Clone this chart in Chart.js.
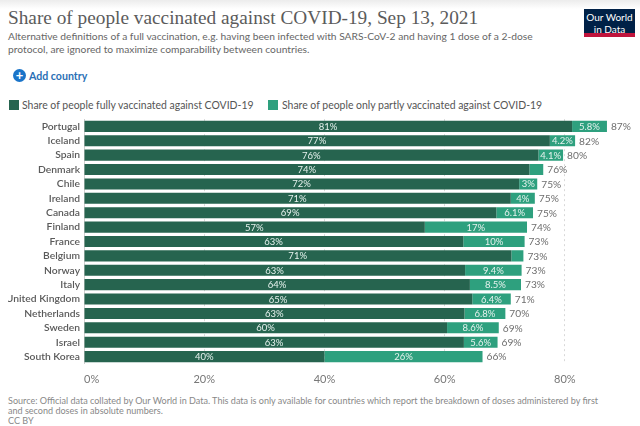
<!DOCTYPE html>
<html><head><meta charset="utf-8">
<script src="https://cdn.jsdelivr.net/npm/chart.js@4/dist/chart.umd.min.js"></script>
<style>
html,body{margin:0;padding:0;width:640px;height:426px;overflow:hidden;background:#fff;font-family:Lato,sans-serif}
#topshade{position:absolute;left:0;top:0;width:640px;height:9px;background:linear-gradient(#ececec,#fff)}
.t{position:absolute;white-space:nowrap}
#title{left:8px;top:5px;font:19.3px/26px "Liberation Serif",serif;color:#5b5b5b}
.sub{left:8px;font-size:10.25px;line-height:13px;color:#666}
#add{left:29px;top:69px;font-size:10.6px;line-height:14px;font-weight:700;color:#2a6fb5}
#plus{position:absolute;left:13px;top:69px;width:13px;height:13px;border-radius:50%;background:#1a74c9;color:#fff;font:700 13px/12px Lato;text-align:center}
#logo{position:absolute;left:584px;top:9px;width:51px;background:#002147;border-bottom:4px solid #c0143c;color:#fff;font-size:10px;line-height:11.5px;text-align:center;padding-top:3px;height:21px}
.foot{left:8px;font-size:9.05px;line-height:10px;color:#888}
.sw{position:absolute;top:100px;width:10px;height:10px}
.leg{top:98px;font-size:10.45px;line-height:14px;color:#555}
#wrap{position:absolute;left:0;top:109px;width:640px;height:286px}
</style></head><body>
<div id="topshade"></div>
<div class="t" id="title">Share of people vaccinated against COVID-19, Sep 13, 2021</div>
<div class="t sub" style="top:30px">Alternative definitions of a full vaccination, e.g. having been infected with SARS-CoV-2 and having 1 dose of a 2-dose</div>
<div class="t sub" style="top:43px">protocol, are ignored to maximize comparability between countries.</div>
<div id="plus">+</div><div class="t" id="add">Add country</div>
<div id="logo">Our World<br>in Data</div>
<div class="sw" style="left:9px;background:#26644f"></div>
<div class="t leg" style="left:22px">Share of people fully vaccinated against COVID-19</div>
<div class="sw" style="left:268px;background:#2ea07e"></div>
<div class="t leg" style="left:282px">Share of people only partly vaccinated against COVID-19</div>
<div id="wrap"><canvas id="c" width="640" height="286"></canvas></div>
<div class="t foot" style="top:396px">Source: Official data collated by Our World in Data. This data is only available for countries which report the breakdown of doses administered by first</div>
<div class="t foot" style="top:406px">and second doses in absolute numbers.</div>
<div class="t foot" style="top:416px">CC BY</div>
<script>
const countries=["Portugal","Iceland","Spain","Denmark","Chile","Ireland","Canada","Finland","France","Belgium","Norway","Italy","United Kingdom","Netherlands","Sweden","Israel","South Korea"];
const fullyVaccinated=[81.2,77.5,75.6,74.1,72.4,71,68.6,56.7,63.1,71.1,63.4,64.2,64.6,63.3,60.4,63.2,40];
const partlyVaccinated=[5.8,4.2,4.1,2.3,3,4,6.1,17,10.2,2,9.4,8.5,6.4,6.8,8.6,5.6,26.3];
const fullyLabels=["81%","77%","76%","74%","72%","71%","69%","57%","63%","71%","63%","64%","65%","63%","60%","63%","40%"];
const partlyLabels=["5.8%","4.2%","4.1%","","3%","4%","6.1%","17%","10%","","9.4%","8.5%","6.4%","6.8%","8.6%","5.6%","26%"];
const totalLabels=["87%","82%","80%","76%","75%","75%","75%","74%","73%","73%","73%","73%","71%","70%","69%","69%","66%"];
const xTicks=[0,20,40,60,80];
const xMax=91;

const barLabels={id:'barLabels',afterDatasetsDraw(chart){
  const {ctx,scales:{x,y}}=chart;
  ctx.save();ctx.textBaseline='middle';
  countries.forEach((c,i)=>{
    const py=y.getPixelForValue(i)+.5;
    const f=fullyVaccinated[i],p=partlyVaccinated[i];
    ctx.textAlign='center';ctx.fillStyle='#e6f2ee';ctx.font='9.5px Lato';
    ctx.fillText(fullyLabels[i],x.getPixelForValue(f/2),py);
    if(partlyLabels[i])ctx.fillText(partlyLabels[i],x.getPixelForValue(f+p/2),py);
    ctx.textAlign='left';ctx.fillStyle='#6e6e6e';ctx.font='10.2px Lato';
    ctx.fillText(totalLabels[i],x.getPixelForValue(f+p)+4,py);
  });
  ctx.restore();
}};

new Chart(document.getElementById('c'),{
  type:'bar',
  data:{labels:countries,datasets:[
    {label:'Share of people fully vaccinated against COVID-19',data:fullyVaccinated,backgroundColor:'#26644f'},
    {label:'Share of people only partly vaccinated against COVID-19',data:partlyVaccinated,backgroundColor:'#2ea07e'}
  ]},
  options:{
    indexAxis:'y',responsive:false,animation:false,
    layout:{padding:{left:8,right:3,top:4,bottom:0}},
    datasets:{bar:{categoryPercentage:1,barPercentage:.77}},
    plugins:{tooltip:{enabled:false},legend:{display:false}},
    scales:{
      x:{type:'linear',stacked:true,min:0,max:xMax,
        afterBuildTicks(a){a.ticks=xTicks.concat([xMax]).map(v=>({value:v}));},
        grid:{drawTicks:false,color:c=>c.tick&&c.tick.value>80?'transparent':'#d8d8d8'},
        border:{display:false,dash:[2,3]},
        ticks:{autoSkip:false,maxRotation:0,align:'inner',padding:9,color:'#777',font:{family:'Lato',size:11},
          callback:v=>xTicks.includes(v)?v+'%':''}},
      y:{type:'category',stacked:true,
        afterFit(a){a.width=76;},
        grid:{display:false,drawTicks:false},
        border:{display:true,color:'#cfcfcf'},
        ticks:{autoSkip:false,padding:4,color:'#5a5a5a',font:{family:'Lato',size:10.3,weight:'600'}}}
    }
  },
  plugins:[barLabels]
});
</script>
</body></html>
